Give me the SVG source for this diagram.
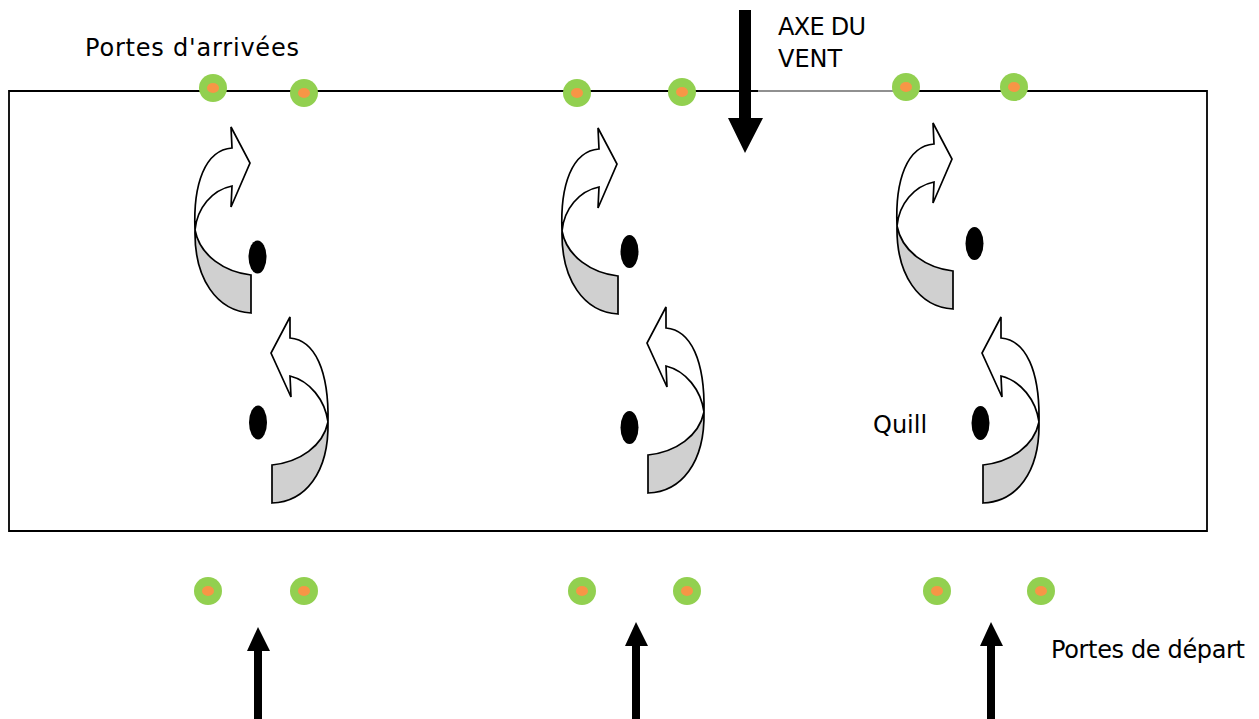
<svg xmlns="http://www.w3.org/2000/svg" width="1259" height="719" viewBox="0 0 1259 719">
<style>
.lbl{font-family:"DejaVu Sans","Liberation Sans",sans-serif;font-size:24px;fill:#000}
.band{fill:#fff;stroke:#000;stroke-width:1.7;stroke-linejoin:miter}
.shade{fill:#d0d0d0;stroke:#000;stroke-width:1.7}
.gate{fill:#92d050}
.gatec{fill:#f79646}
.quill{fill:#000}
.big{fill:#000}
</style>
<defs>
<g id="curveR">
<path class="shade" d="M195,230 C194,279 217,311 251,313 L251,275 C225,272 200,256 195,230 Z"/>
<path class="band" d="M195,230 C193,184 205,150 232,148 L231,127 L250,163 L231,207 L232,186 C212,190 197,208 195,230 Z"/>
</g>
<g id="curveL">
<path class="shade" d="M328,422 C329,473 305,502 272,503 L272,465 C300,462 323,446 328,422 Z"/>
<path class="band" d="M328,422 C329,371 315,340 290,338 L290,317 L271,353 L291,397 L290,376 C310,381 325,400 328,422 Z"/>
</g>
<g id="gateShape">
<circle class="gate" cx="0" cy="0" r="14"/>
<ellipse class="gatec" cx="0" cy="0" rx="6" ry="5"/>
</g>
</defs>
<rect width="1259" height="719" fill="#fff"/>

<g id="course">
<path d="M758,91 L9,91 L9,531 L1207,531 L1207,91 L893,91" fill="none" stroke="#000" stroke-width="1.8"/>
<path d="M758,91 L893,91" fill="none" stroke="#222" stroke-width="1.1"/>
</g>

<g id="arrival-gates">
<use href="#gateShape" x="213" y="88"/>
<use href="#gateShape" x="304" y="93"/>
<use href="#gateShape" x="577" y="93"/>
<use href="#gateShape" x="682" y="92"/>
<use href="#gateShape" x="906" y="87"/>
<use href="#gateShape" x="1014" y="87"/>
</g>

<g id="start-gates">
<use href="#gateShape" x="208" y="591"/>
<use href="#gateShape" x="304" y="591"/>
<use href="#gateShape" x="582" y="591"/>
<use href="#gateShape" x="687" y="591"/>
<use href="#gateShape" x="937" y="591"/>
<use href="#gateShape" x="1041" y="591"/>
</g>

<g id="lane1">
<use href="#curveR"/>
<ellipse class="quill" cx="257.5" cy="257" rx="9" ry="16.5"/>
<use href="#curveL"/>
<ellipse class="quill" cx="258" cy="422.5" rx="9" ry="17"/>
</g>

<g id="lane2">
<use href="#curveR" transform="translate(367,1)"/>
<ellipse class="quill" cx="629.5" cy="251.5" rx="9" ry="16.5"/>
<use href="#curveL" transform="translate(376,-10)"/>
<ellipse class="quill" cx="629.5" cy="427.5" rx="9" ry="16.5"/>
</g>

<g id="lane3">
<use href="#curveR" transform="translate(702,-4)"/>
<ellipse class="quill" cx="974.5" cy="243.5" rx="9" ry="16.5"/>
<use href="#curveL" transform="translate(711,0)"/>
<ellipse class="quill" cx="980.5" cy="423" rx="9" ry="17"/>
</g>

<g id="connectors">
<path class="big" d="M739,10 L751,10 L751,118 L763,118 L745,153 L728,118 L739,118 Z"/>
<path class="big" d="M254,719 L254,651 L247,651 L258,627 L270,651 L262,651 L262,719 Z"/>
<path class="big" d="M632,719 L632,646 L625,646 L636,622 L648,646 L640,646 L640,719 Z"/>
<path class="big" d="M987,719 L987,646 L980,646 L991,622 L1003,646 L995,646 L995,719 Z"/>
</g>

<g id="labels">
<text class="lbl" x="85" y="56" textLength="214" lengthAdjust="spacing">Portes d'arrivées</text>
<text class="lbl" x="778" y="35" textLength="88" lengthAdjust="spacing">AXE DU</text>
<text class="lbl" x="778" y="67">VENT</text>
<text class="lbl" x="873" y="433">Quill</text>
<text class="lbl" x="1051" y="658" textLength="194" lengthAdjust="spacing">Portes de départ</text>
</g>
</svg>
